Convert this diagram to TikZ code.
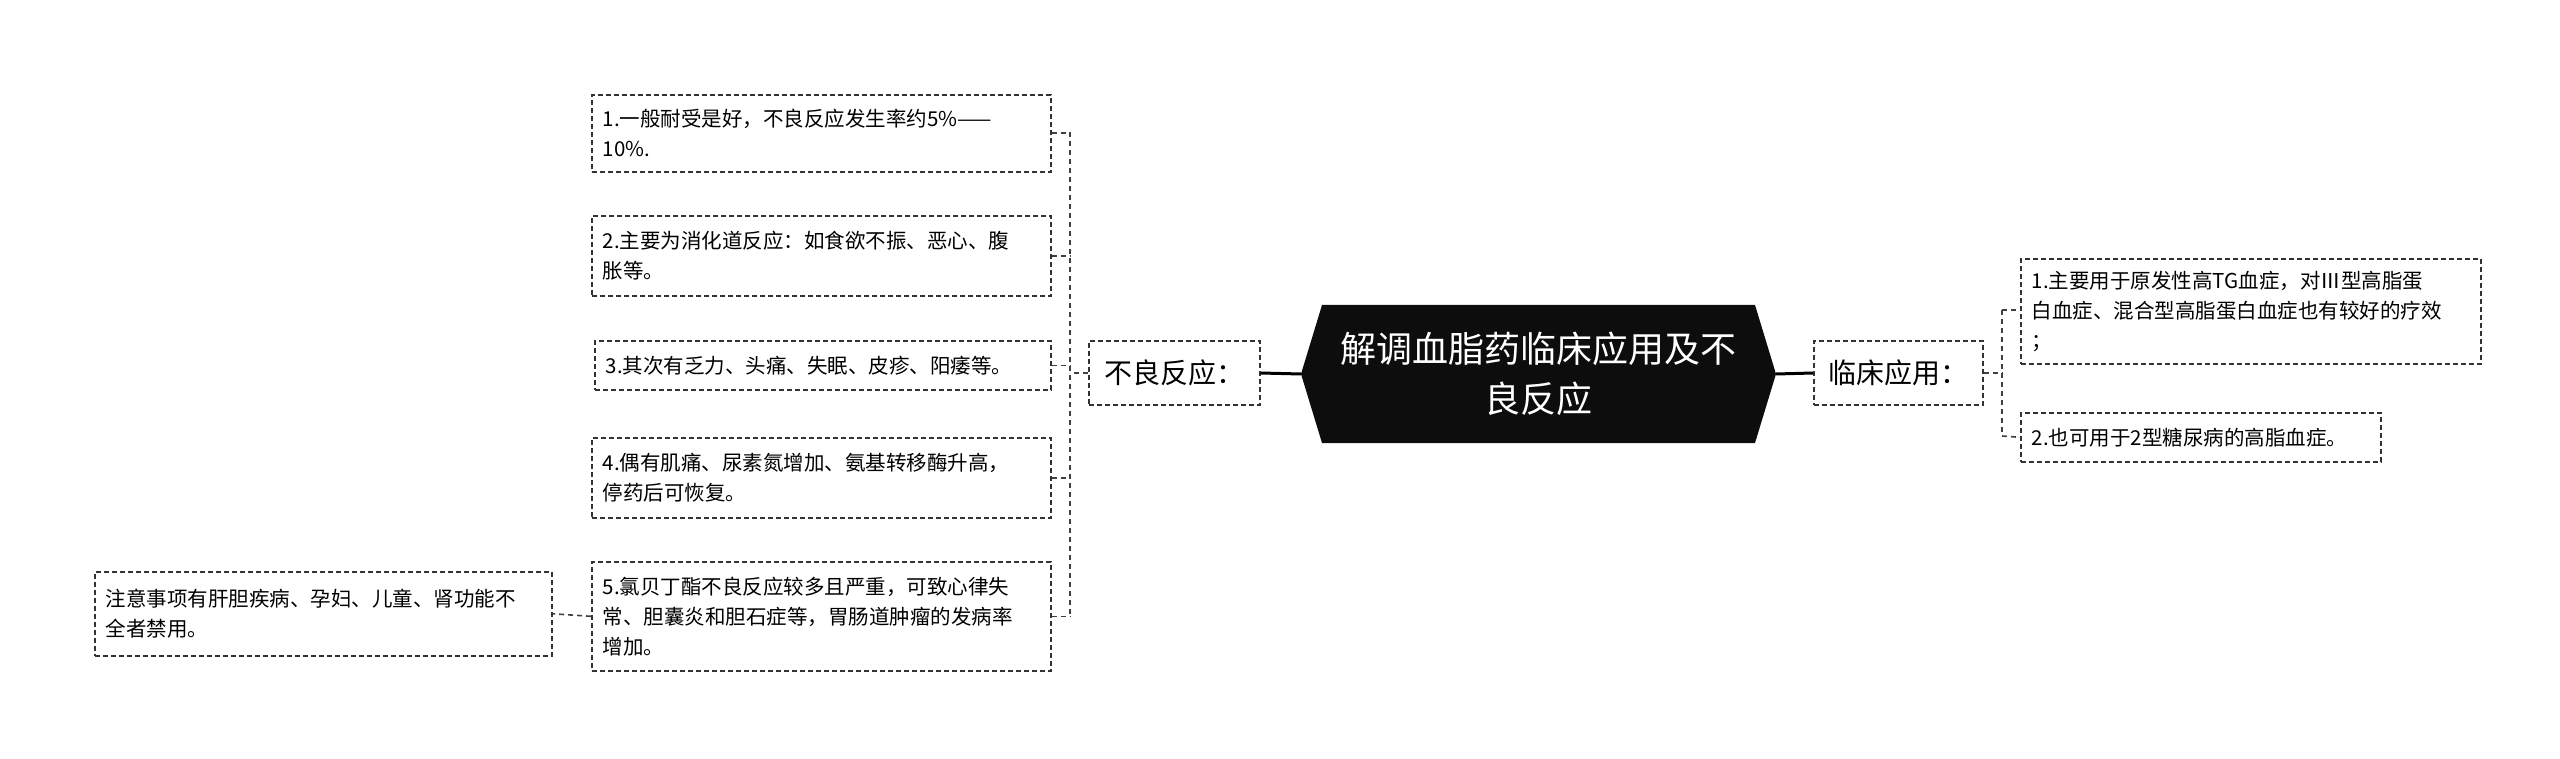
\documentclass[tikz,border=0pt]{standalone}
\usepackage{fontspec}
\setmainfont{Noto Sans CJK SC}
\begin{document}
\begin{tikzpicture}[x=1pt,y=-1pt,
  box/.style={draw=black!80,dashed,dash pattern=on 5pt off 3pt,line width=1.6pt,anchor=north west,inner xsep=11pt,inner ysep=0pt,align=left,font=\fontsize{20.5}{30}\selectfont},
  link/.style={draw=black!75,dashed,dash pattern=on 5pt off 4pt,line width=1.6pt}]
\useasboundingbox (0,0) rectangle (2560,759);
% center
\fill[black!95] (1301,374) -- (1322,305) -- (1755,305) -- (1776,374) -- (1755,443) -- (1322,443) -- cycle;
\node[text=white,align=center,font=\fontsize{36}{50}\selectfont,text width=420pt] (c) at (1538.5,374) {解调血脂药临床应用及不\\良反应};
\coordinate (cl) at (1301,374);
\coordinate (cr) at (1776,374);
% mid nodes
\node[box,minimum width=171pt,minimum height=64pt,inner xsep=12pt,font=\fontsize{28}{34}\selectfont,anchor=west] (nb) at (1088,373) {不良反应：};
\node[box,minimum width=169pt,minimum height=64pt,inner xsep=12pt,font=\fontsize{28}{34}\selectfont,anchor=west] (lc) at (1813,373) {临床应用：};
\draw[line width=3pt] (nb.east) -- (cl);
\draw[line width=3pt] (cr) -- (lc.west);
% left leaves
\node[box,text width=437pt,minimum height=77pt] (l1) at (591,94) {1.一般耐受是好，不良反应发生率约5\%——\\10\%.};
\node[box,text width=437pt,minimum height=80pt] (l2) at (591,215) {2.主要为消化道反应：如食欲不振、恶心、腹\\胀等。};
\node[box,text width=434pt,minimum height=49pt] (l3) at (594,340) {3.其次有乏力、头痛、失眠、皮疹、阳痿等。};
\node[box,text width=437pt,minimum height=80pt] (l4) at (591,437) {4.偶有肌痛、尿素氮增加、氨基转移酶升高，\\停药后可恢复。};
\node[box,text width=437pt,minimum height=109pt] (l5) at (591,561) {5.氯贝丁酯不良反应较多且严重，可致心律失\\常、胆囊炎和胆石症等，胃肠道肿瘤的发病率\\增加。};
\node[box,text width=435pt,minimum height=84pt] (nt) at (94,571) {注意事项有肝胆疾病、孕妇、儿童、肾功能不\\全者禁用。};
% right leaves
\node[box,text width=438pt,minimum height=105pt] (r1) at (2020,258) {1.主要用于原发性高TG血症，对Ⅲ型高脂蛋\\白血症、混合型高脂蛋白血症也有较好的疗效\\；};
\node[box,text width=338pt,minimum height=49pt] (r2) at (2020,412) {2.也可用于2型糖尿病的高脂血症。};
% left connectors
\coordinate (lt) at (1070,373);
\coordinate (lt1) at (1070,132);
\coordinate (lt5) at (1070,615);
\draw[link] (nb.west) -- (lt);
\draw[link] (lt1) -- (lt5);
\foreach \n in {l1,l2,l3,l4,l5} \draw[link] (\n.east) -- (\n.east -| lt);
\draw[link] (l5.west) -- (nt.east);
% right connectors
\coordinate (rt) at (2002,373);
\coordinate (rt1) at (2002,310);
\coordinate (rt2) at (2002,436);
\draw[link] (lc.east) -- (rt);
\draw[link] (rt1) -- (rt2);
\draw[link] (rt1) -- (r1.west |- rt1);
\draw[link] (rt2) -- (r2.west);
\end{tikzpicture}
\end{document}
